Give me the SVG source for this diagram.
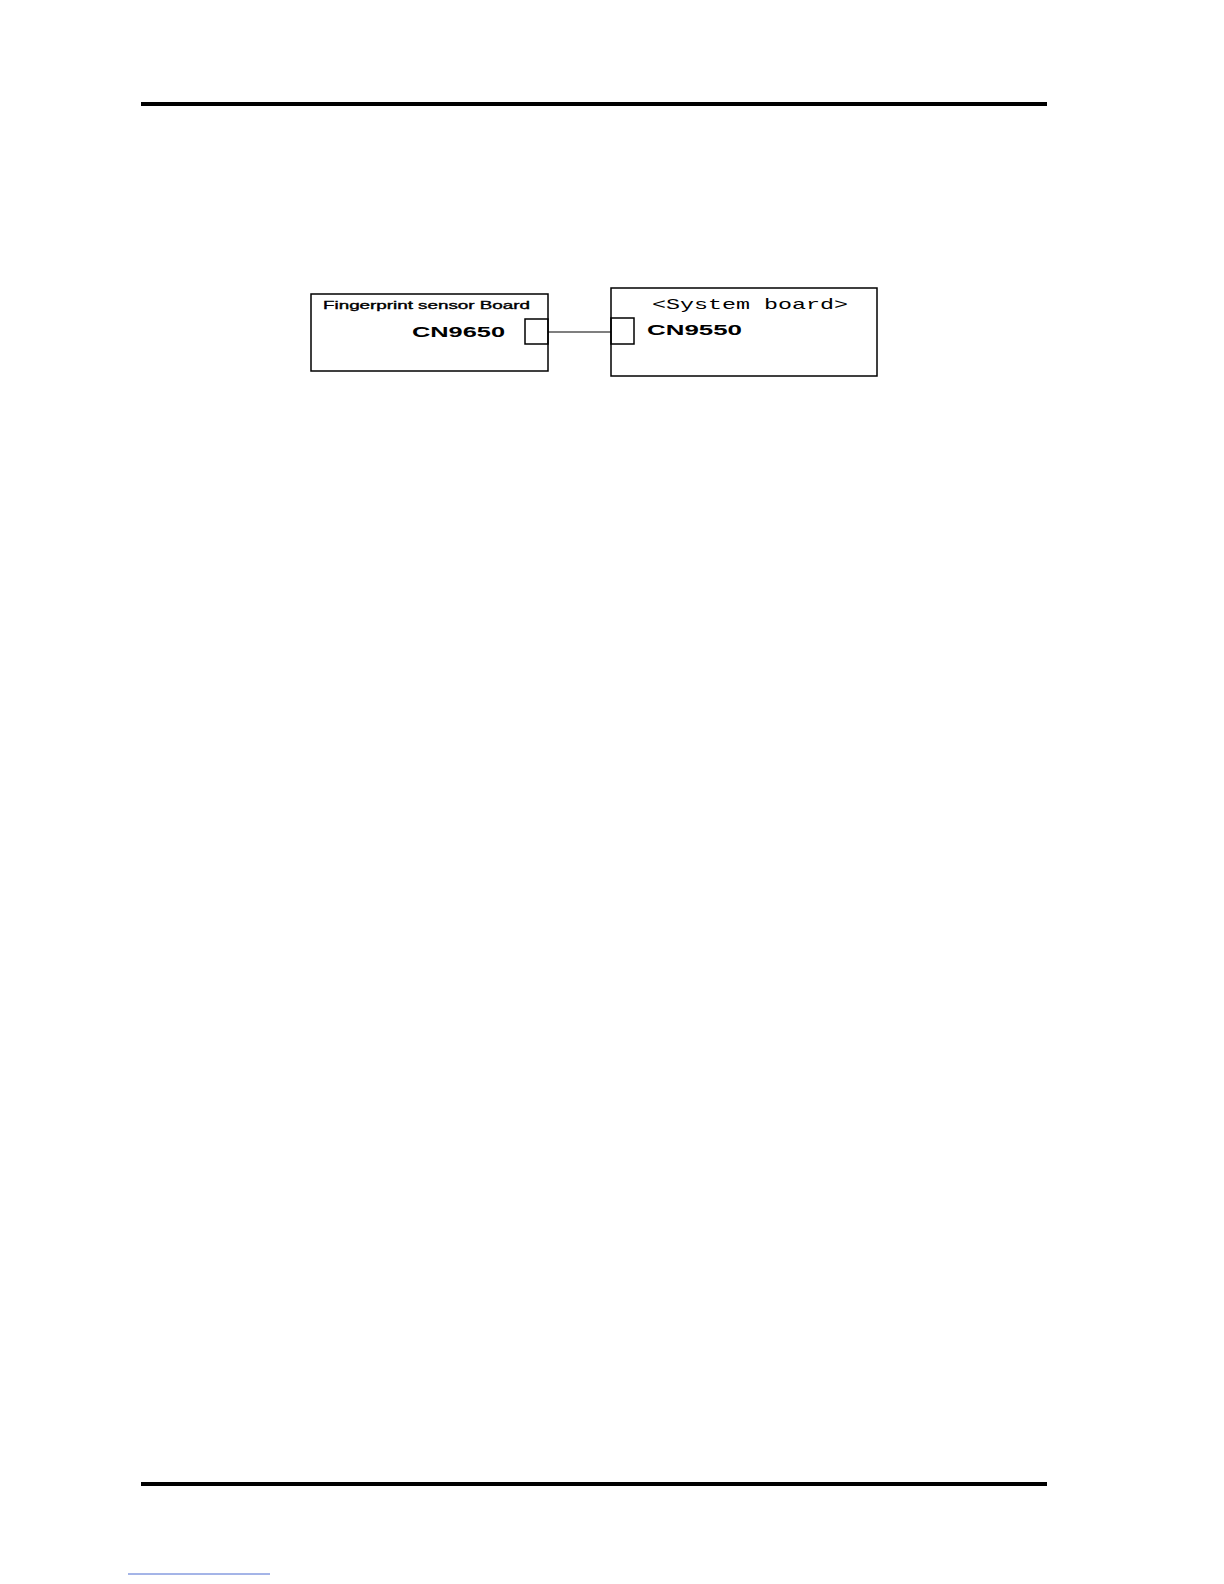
<svg xmlns="http://www.w3.org/2000/svg" width="1224" height="1584" viewBox="0 0 1224 1584">
<style>
.box{fill:none;stroke:#000;stroke-width:1.5}
.conn{fill:none;stroke:#000;stroke-width:1.2}
.rule{fill:#000}
.lbl{font-family:"Liberation Sans",Arial,sans-serif;font-weight:bold;fill:#000}
.small{font-family:"Liberation Sans",Arial,sans-serif;fill:#000;stroke:#000;stroke-width:0.35}
.mono{font-family:"Liberation Mono","DejaVu Sans Mono",monospace;fill:#000}
</style>
<rect width="1224" height="1584" fill="#fff"/>
<rect class="rule" x="141" y="102" width="906" height="4"/>
<rect class="rule" x="141" y="1482" width="906" height="4"/>
<line x1="128" y1="1574" x2="270" y2="1574" stroke="#4a6ad0" stroke-width="1"/>
<g id="fingerprint-board">
<rect class="box" x="311" y="294" width="237" height="77"/>
<text class="small" x="323" y="309" font-size="10.5" textLength="207" lengthAdjust="spacingAndGlyphs">Fingerprint sensor Board</text>
<text class="lbl" x="412" y="337" font-size="14" textLength="93" lengthAdjust="spacingAndGlyphs">CN9650</text>
<rect class="box" x="525" y="319" width="23" height="25"/>
</g>
<g id="system-board">
<rect class="box" x="611" y="288" width="266" height="88"/>
<text class="mono" x="652" y="309" font-size="15" textLength="196" lengthAdjust="spacingAndGlyphs">&lt;System board&gt;</text>
<text class="lbl" x="647" y="335" font-size="14" textLength="95" lengthAdjust="spacingAndGlyphs">CN9550</text>
<rect class="box" x="611" y="318" width="23" height="26"/>
</g>
<g id="connectors">
<line class="conn" x1="548" y1="332" x2="611" y2="332"/>
</g>
</svg>
